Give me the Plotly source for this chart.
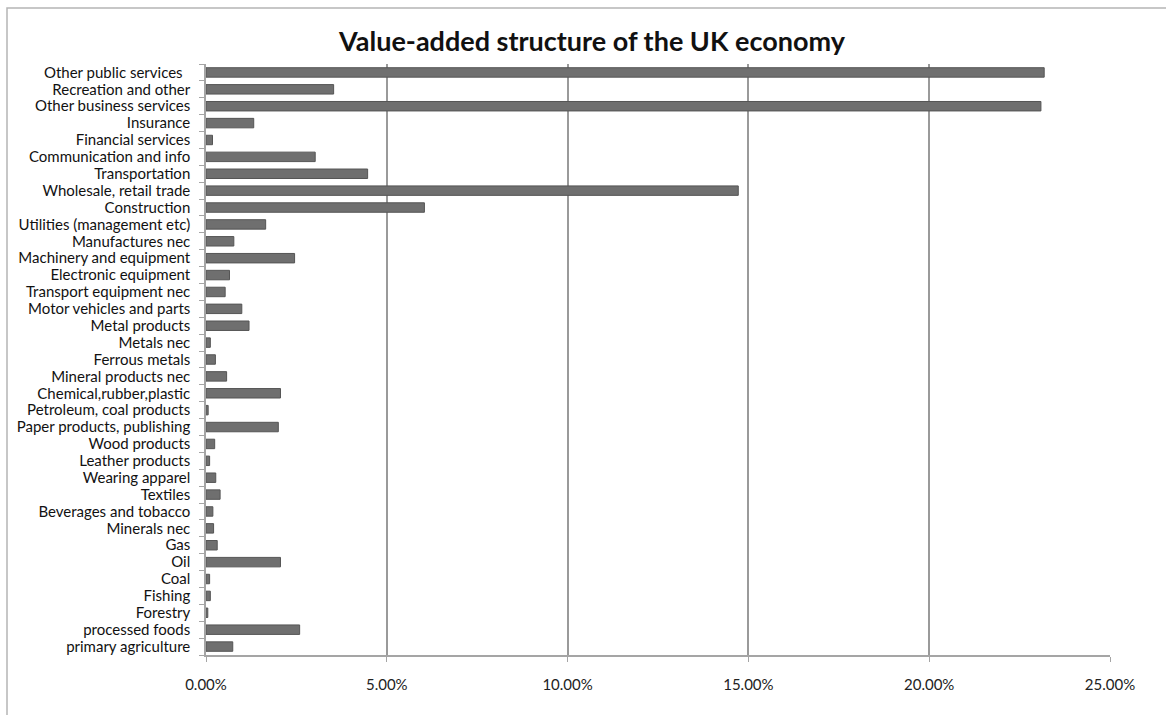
import plotly.graph_objects as go

# Sectors, listed top to bottom as they appear on the chart
sectors = [
    "Other public services\u00a0\u00a0",
    "Recreation and other",
    "Other business services",
    "Insurance",
    "Financial services",
    "Communication and info",
    "Transportation",
    "Wholesale, retail trade",
    "Construction",
    "Utilities (management etc)",
    "Manufactures nec",
    "Machinery and equipment",
    "Electronic equipment",
    "Transport equipment nec",
    "Motor vehicles and parts",
    "Metal products",
    "Metals nec",
    "Ferrous metals",
    "Mineral products nec",
    "Chemical,rubber,plastic",
    "Petroleum, coal products",
    "Paper products, publishing",
    "Wood products",
    "Leather products",
    "Wearing apparel",
    "Textiles",
    "Beverages and tobacco",
    "Minerals nec",
    "Gas",
    "Oil",
    "Coal",
    "Fishing",
    "Forestry",
    "processed foods",
    "primary agriculture",
]

# Share of total value added (fraction)
share = [
    0.2318, 0.0353, 0.2309, 0.0132, 0.0018, 0.0302, 0.0447, 0.1472, 0.0604,
    0.0165, 0.0077, 0.0245, 0.0065, 0.0053, 0.0099, 0.0119, 0.0012, 0.0026,
    0.0057, 0.0206, 0.0006, 0.0200, 0.0024, 0.0010, 0.0027, 0.0039, 0.0019,
    0.0021, 0.0031, 0.0206, 0.0010, 0.0012, 0.0005, 0.0259, 0.0074,
]

x_ticks = [0, 0.05, 0.10, 0.15, 0.20, 0.25]
x_tick_text = ["0.00%", "5.00%", "10.00%", "15.00%", "20.00%", "25.00%"]

label_font = "Lato, 'Open Sans', sans-serif"

fig = go.Figure(
    go.Bar(
        x=share,
        y=sectors,
        orientation="h",
        marker=dict(color="#6f6f6f", line=dict(color="#555555", width=1)),
        hoverinfo="x+y",
    )
)

fig.update_layout(
    width=1166,
    height=715,
    margin=dict(l=206, r=56, t=64, b=60),
    paper_bgcolor="white",
    plot_bgcolor="white",
    bargap=0.44,
    showlegend=False,
    title=dict(
        text="<b>Value-added structure of the UK economy</b>",
        x=592 / 1166,
        xanchor="center",
        xref="container",
        y=1 - 42 / 715,
        yanchor="middle",
        yref="container",
        font=dict(family=label_font, size=27, color="#111111"),
    ),
    xaxis=dict(
        range=[0, 0.25],
        tickmode="array",
        tickvals=x_ticks,
        ticktext=x_tick_text,
        showgrid=True,
        gridcolor="#9a9a9a",
        gridwidth=1.5,
        zeroline=False,
        showline=True,
        linecolor="#a5a5a5",
        linewidth=1.5,
        ticks="outside",
        ticklen=5,
        tickcolor="#a5a5a5",
        ticklabelstandoff=10,
        tickfont=dict(family=label_font, size=15, color="#222222"),
        fixedrange=True,
    ),
    yaxis=dict(
        autorange="reversed",
        tickmode="array",
        tickvals=sectors,
        ticktext=sectors,
        showgrid=False,
        zeroline=False,
        showline=True,
        linecolor="#a5a5a5",
        linewidth=1.5,
        ticks="outside",
        tickson="boundaries",
        ticklen=5,
        tickcolor="#a5a5a5",
        ticklabelstandoff=11,
        tickfont=dict(family=label_font, size=15, color="#111111"),
        fixedrange=True,
    ),
    shapes=[
        # outer chart frame
        dict(
            type="rect",
            xref="paper",
            yref="paper",
            x0=(7 - 206) / 904,
            x1=1.2,
            y0=-0.3,
            y1=(655 - 8) / 591,
            line=dict(color="#b5b5b5", width=1.5),
            layer="below",
        )
    ],
)

fig.write_html("out.html")
